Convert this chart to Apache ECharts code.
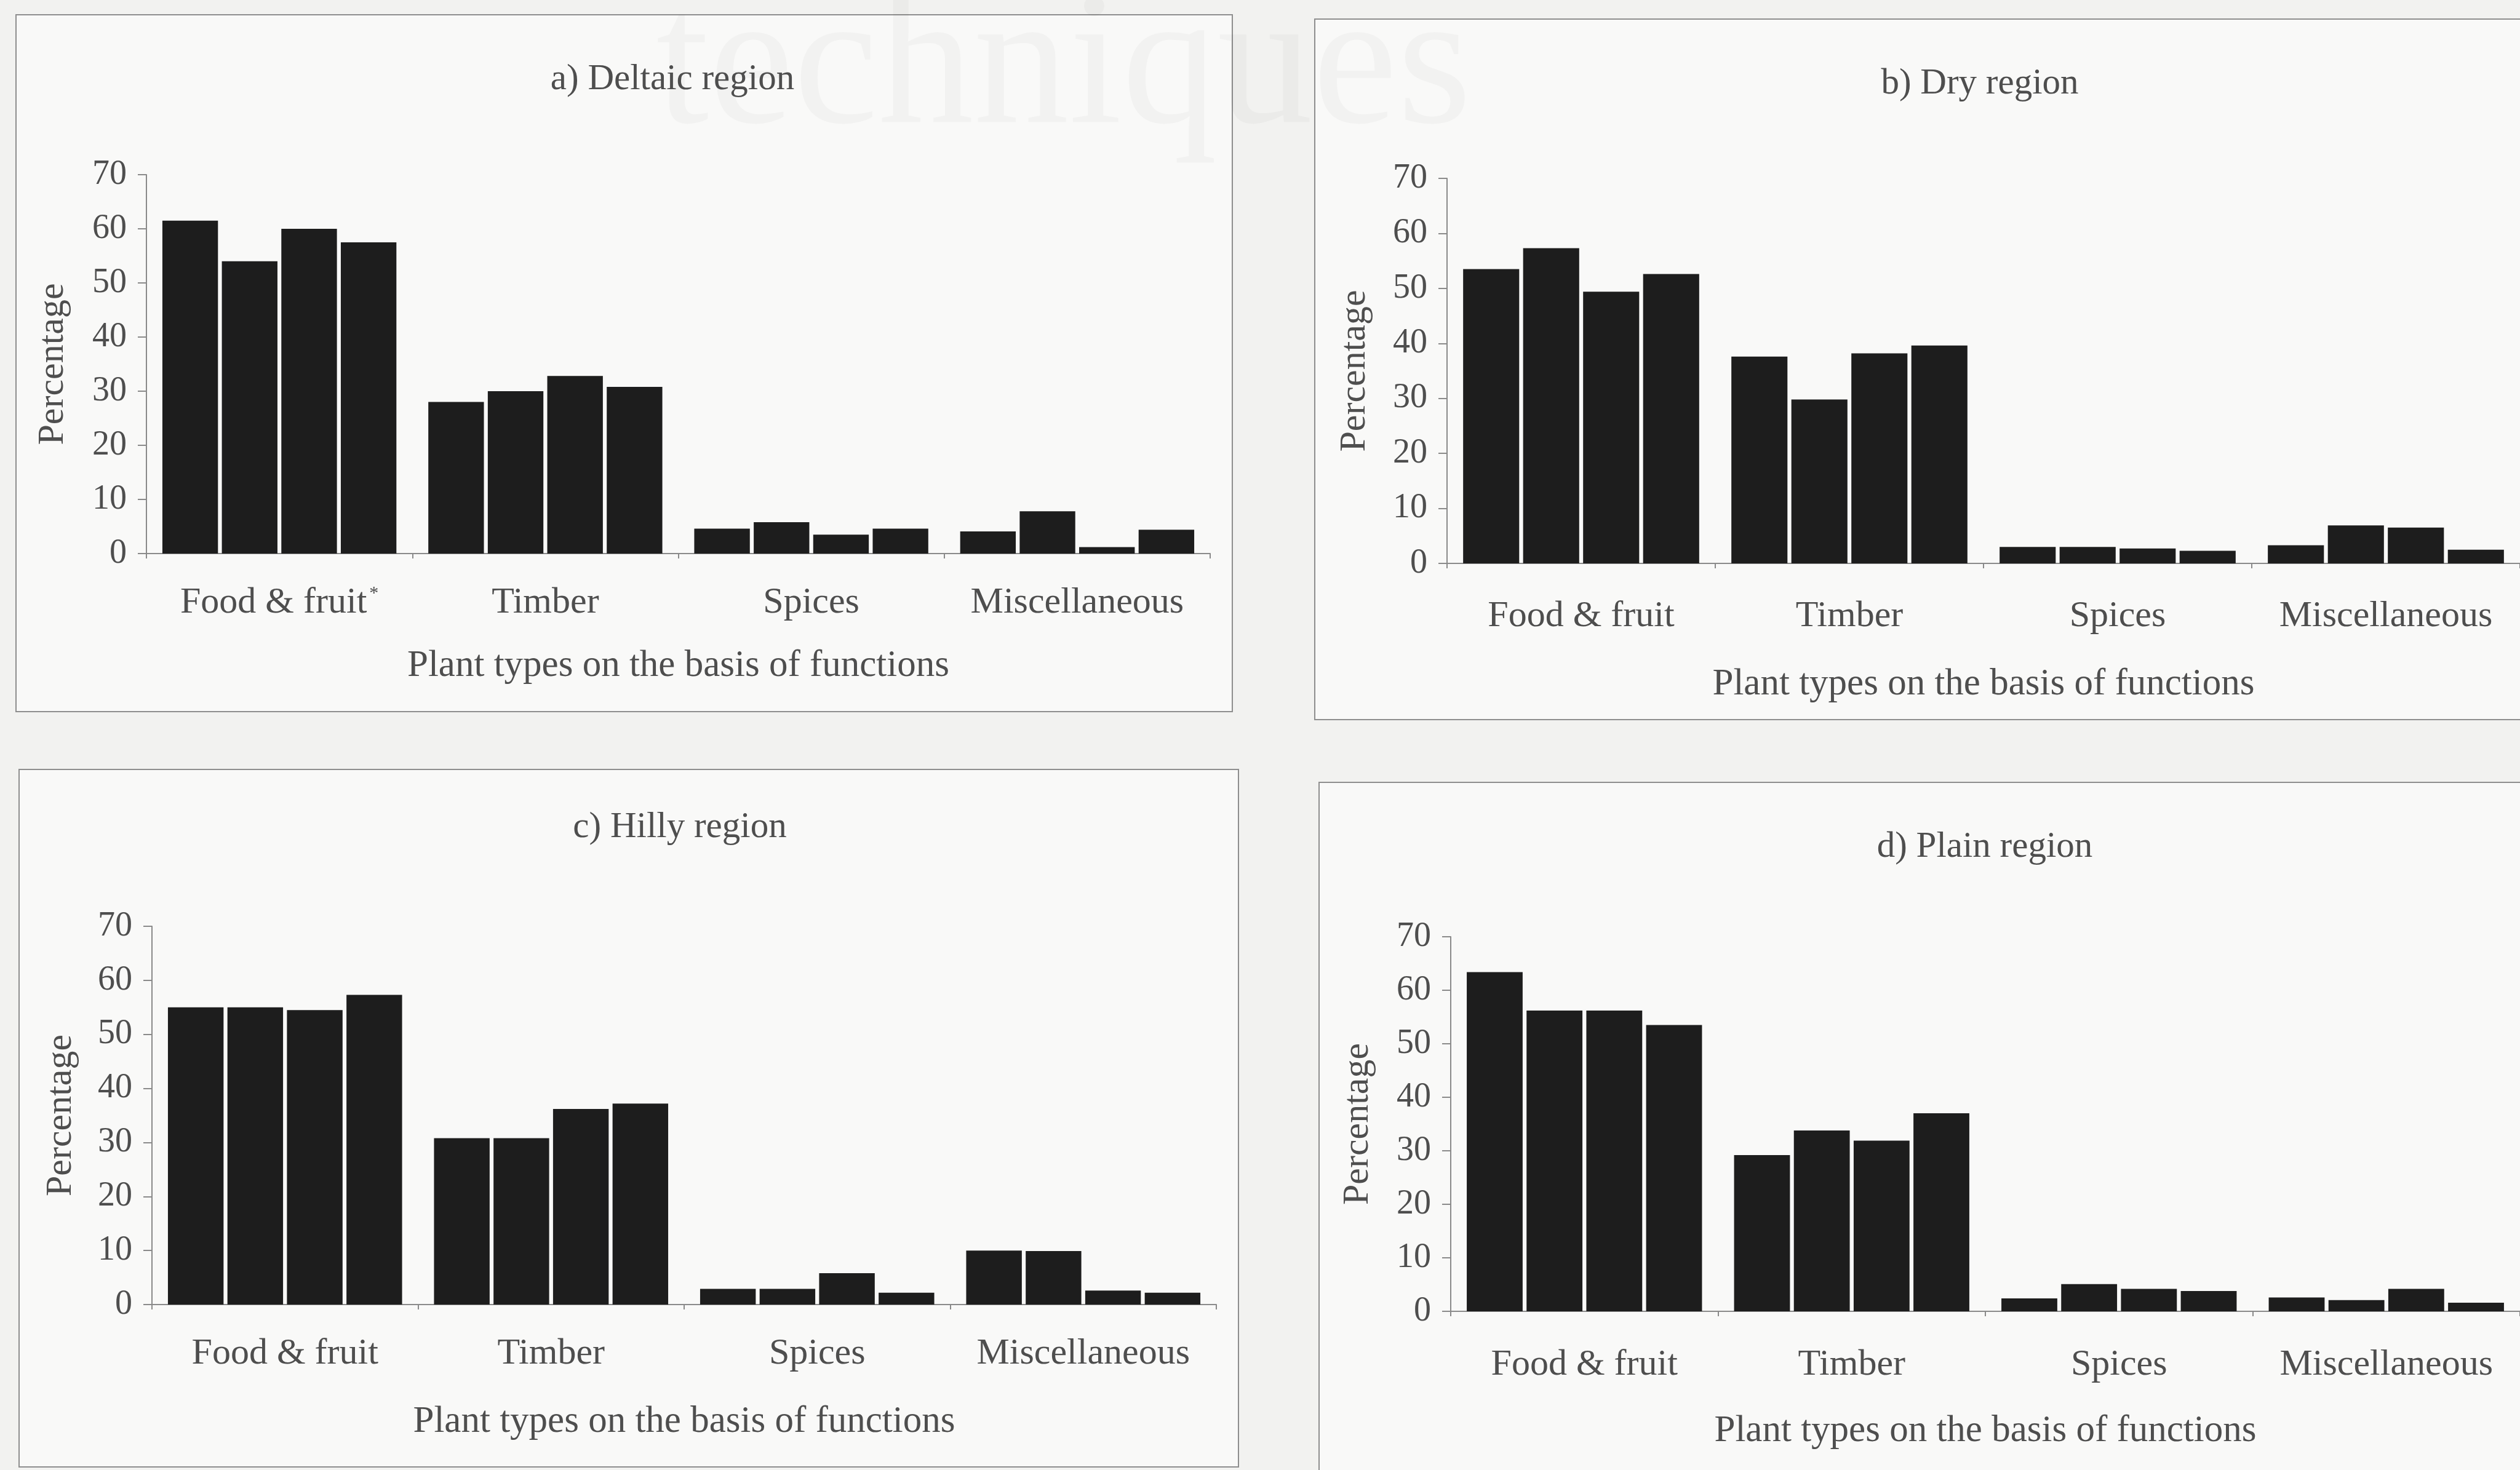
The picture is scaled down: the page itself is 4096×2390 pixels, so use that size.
<!DOCTYPE html>
<html>
<head>
<meta charset="utf-8">
<title>Plant types on the basis of functions</title>
<script src="https://cdn.jsdelivr.net/npm/echarts@6/dist/echarts.min.js"></script>
<style>
  html, body { margin: 0; padding: 0; background: #f2f2f0; }
  #chart { width: 4096px; height: 2390px; }
</style>
</head>
<body>
<div id="chart"></div>
<script>
// Plant function categories shown on every panel
const categories = ['Food & fruit', 'Timber', 'Spices', 'Miscellaneous'];

// Y axis scale (percentage)
const yMin = 0;
const yMax = 70;
const yStep = 10;

// Percentages per category, four bars per category (rows follow `categories`)
const deltaic = [
  [61.5, 54.0, 60.0, 57.5],
  [28.0, 30.0, 32.8, 30.8],
  [4.6, 5.8, 3.5, 4.6],
  [4.1, 7.8, 1.2, 4.4]
];
const dry = [
  [53.5, 57.3, 49.4, 52.6],
  [37.6, 29.8, 38.2, 39.6],
  [3.0, 3.0, 2.7, 2.3],
  [3.3, 6.9, 6.5, 2.5]
];
const hilly = [
  [55.0, 55.0, 54.5, 57.3],
  [30.8, 30.8, 36.2, 37.2],
  [2.9, 2.9, 5.8, 2.2],
  [10.0, 9.9, 2.6, 2.2]
];
const plain = [
  [63.4, 56.2, 56.2, 53.5],
  [29.2, 33.8, 31.9, 37.0],
  [2.4, 5.1, 4.2, 3.8],
  [2.6, 2.1, 4.2, 1.6]
];

const panelTitles = ['a) Deltaic region', 'b) Dry region', 'c) Hilly region', 'd) Plain region'];
const xAxisTitle = 'Plant types on the basis of functions';
const yAxisTitle = 'Percentage';

const FONT = '"Liberation Serif", "DejaVu Serif", serif';
const TEXT = '#4e4e4e';
const BAR = '#1d1d1d';

// Panel layout (pixels)
const panels = [
  { data: deltaic, grid: { left: 238, top: 284, width: 1729, height: 616 },
    box: [26, 24, 1977, 1133], title: [1093, 129], nameGap: 122, labelMargin: 50, xNameGap: 152, star: true },
  { data: dry, grid: { left: 2352, top: 290, width: 1745, height: 626 },
    box: [2137, 31, 2100, 1139], title: [3218, 136], nameGap: 120, labelMargin: 56, xNameGap: 166, star: false },
  { data: hilly, grid: { left: 247, top: 1506, width: 1730, height: 615 },
    box: [31, 1251, 1982, 1134], title: [1105, 1345], nameGap: 118, labelMargin: 50, xNameGap: 160, star: false },
  { data: plain, grid: { left: 2358, top: 1523, width: 1740, height: 609 },
    box: [2144, 1272, 2100, 1200], title: [3226, 1377], nameGap: 121, labelMargin: 57, xNameGap: 164, star: false }
];

const grids = [], xAxes = [], yAxes = [], series = [], graphics = [];

panels.forEach((p, i) => {
  graphics.push({
    type: 'rect', z: -1,
    shape: { x: p.box[0], y: p.box[1], width: p.box[2], height: p.box[3] },
    style: { fill: '#f9f9f8', stroke: '#8e8e8e', lineWidth: 2 }
  });
  graphics.push({
    type: 'text', z: 5,
    style: {
      x: p.title[0], y: p.title[1], text: panelTitles[i],
      textAlign: 'center', textVerticalAlign: 'middle',
      font: '59px ' + FONT, fill: TEXT
    }
  });

  grids.push(p.grid);

  xAxes.push({
    type: 'category', gridIndex: i, data: categories,
    name: xAxisTitle, nameLocation: 'middle', nameGap: p.xNameGap,
    nameTextStyle: { fontFamily: FONT, fontSize: 61, color: TEXT },
    axisLine: { lineStyle: { color: '#8a8a8a', width: 2 } },
    axisTick: { show: true, length: 8, lineStyle: { color: '#8a8a8a', width: 2 } },
    axisLabel: {
      interval: 0, hideOverlap: false,
      margin: p.labelMargin, fontFamily: FONT, fontSize: 60, color: TEXT,
      formatter: p.star ? (v => v === 'Food & fruit' ? v + '{s|*}' : v) : (v => v),
      rich: { s: { fontFamily: FONT, fontSize: 30, color: TEXT, verticalAlign: 'top', padding: [0, 0, 30, 4] } }
    }
  });

  yAxes.push({
    type: 'value', gridIndex: i, min: yMin, max: yMax, interval: yStep,
    name: yAxisTitle, nameLocation: 'middle', nameGap: p.nameGap,
    nameTextStyle: { fontFamily: FONT, fontSize: 60, color: TEXT },
    splitLine: { show: false },
    axisLine: { show: true, lineStyle: { color: '#8a8a8a', width: 2 } },
    axisTick: { show: true, length: 14, lineStyle: { color: '#8a8a8a', width: 2 } },
    axisLabel: { margin: 32, fontFamily: FONT, fontSize: 56, color: TEXT }
  });

  for (let k = 0; k < 4; k++) {
    series.push({
      type: 'bar', name: 'Group ' + (k + 1),
      xAxisIndex: i, yAxisIndex: i,
      data: p.data.map(row => row[k]),
      barGap: '7%', barCategoryGap: '12%',
      itemStyle: { color: BAR },
      silent: true
    });
  }
});

// Faint show-through lettering across the top of the page, above the panel fills
graphics.push({
  type: 'text', z: 1,
  style: {
    x: 1729, y: 272, text: 'techniques', textAlign: 'center', textVerticalAlign: 'bottom',
    font: '310px ' + FONT, fill: 'rgba(0,0,0,0.028)'
  }
});

const chart = echarts.init(document.getElementById('chart'), null, { renderer: 'canvas' });
chart.setOption({
  backgroundColor: '#f2f2f0',
  animation: false,
  grid: grids,
  xAxis: xAxes,
  yAxis: yAxes,
  series: series,
  graphic: graphics
});
</script>
</body>
</html>
